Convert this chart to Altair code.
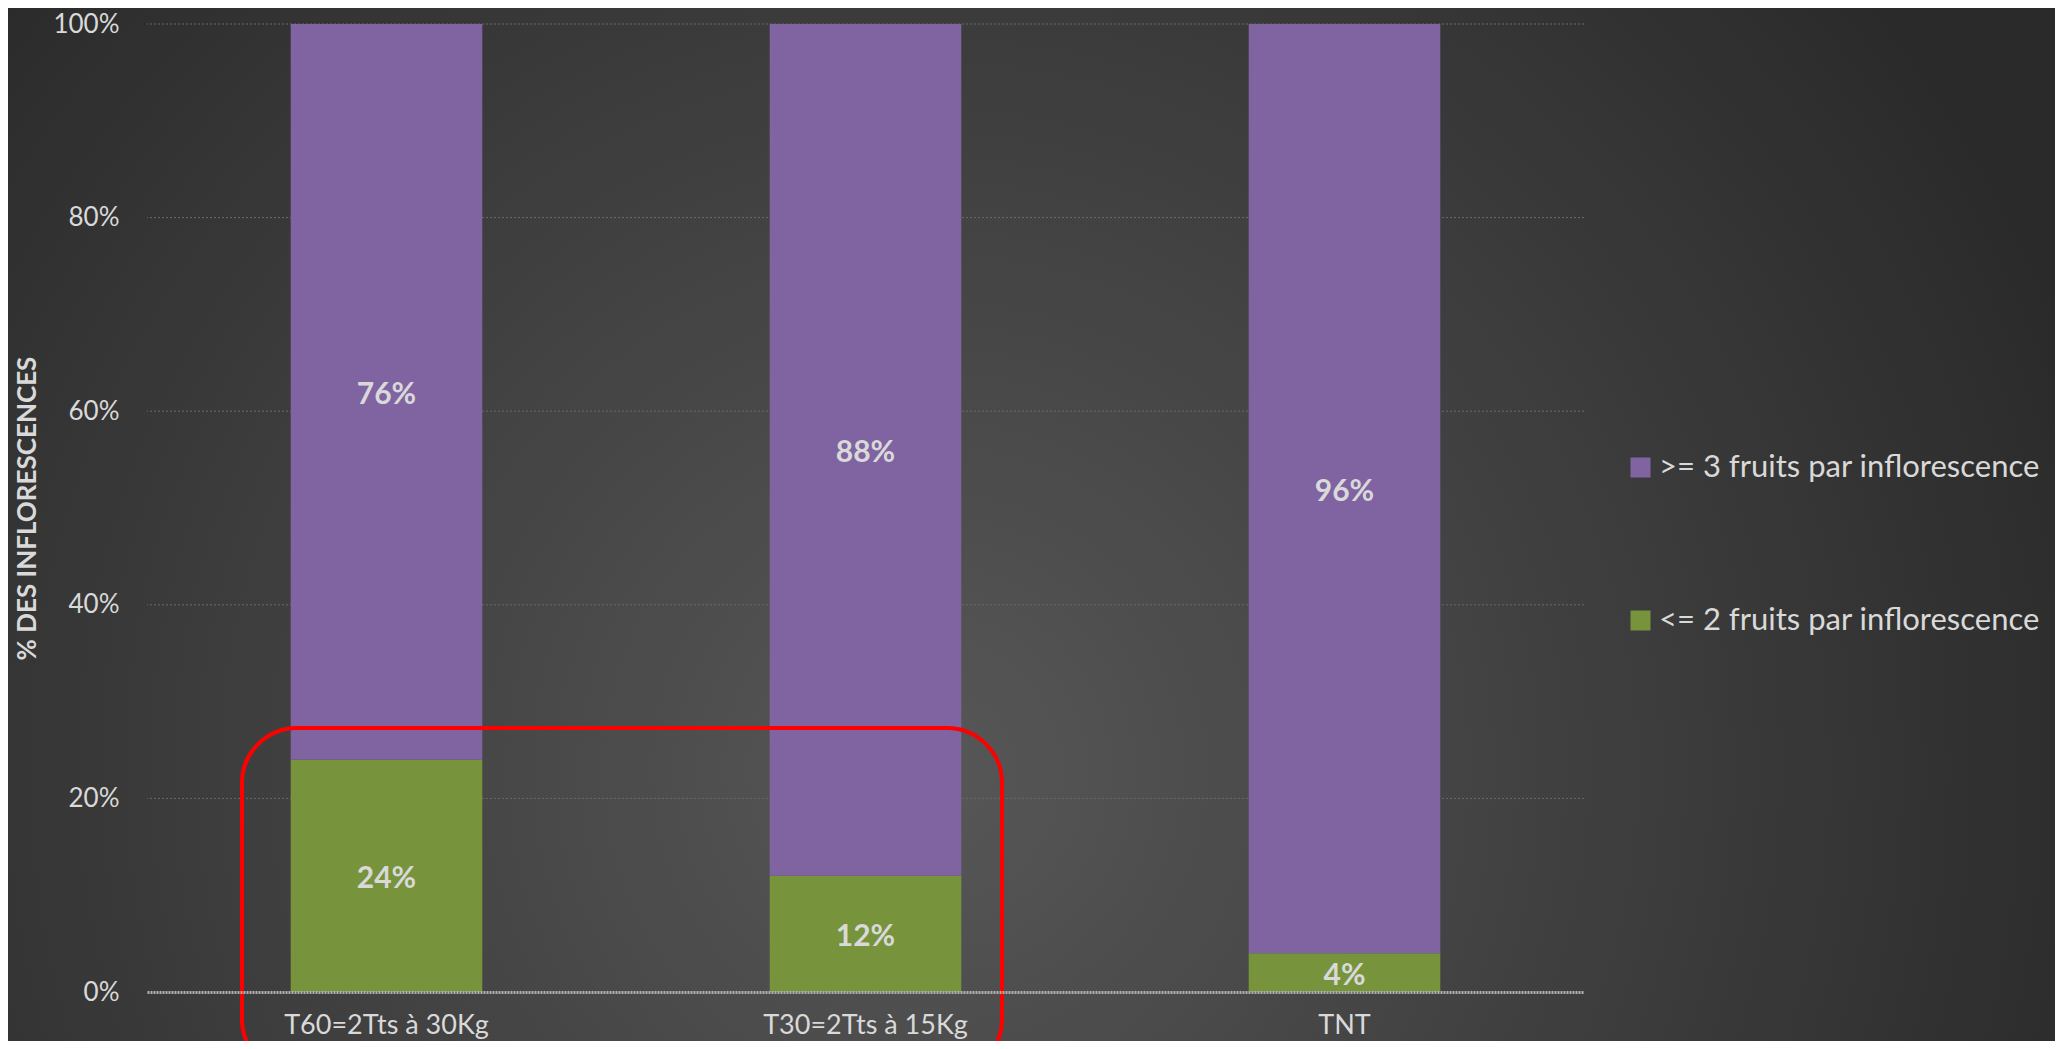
import altair as alt
import pandas as pd

# ---- data ----
categories = ["T60=2Tts à 30Kg", "T30=2Tts à 15Kg", "TNT"]
series_low = "<= 2 fruits par inflorescence"
series_high = ">= 3 fruits par inflorescence"
low_values = [24, 12, 4]
high_values = [76, 88, 96]
y_ticks = [0, 20, 40, 60, 80, 100]
legend_order = [series_high, series_low]
series_colors = ["#8064a2", "#77933c"]

rows = []
for c, lo, hi in zip(categories, low_values, high_values):
    rows.append({"cat": c, "series": series_low, "val": lo, "ord": 0})
    rows.append({"cat": c, "series": series_high, "val": hi, "ord": 1})
df = pd.DataFrame(rows)

# ---- layout ----
W, H = 1437, 968
PAD = {"left": 139, "top": 16, "right": 471, "bottom": 49}
FONT = "Lato"
TXT = "#d9d9d9"

xscale = alt.Scale(domain=categories, paddingInner=0.6, paddingOuter=0.3)
yscale = alt.Scale(domain=[0, 100], nice=False)

one = pd.DataFrame({"a": [0]})

gradient = {
    "gradient": "radial",
    "x1": 0.45, "y1": 0.62, "r1": 0,
    "x2": 0.45, "y2": 0.62, "r2": 0.6,
    "stops": [
        {"offset": 0, "color": "#575757"},
        {"offset": 1, "color": "#2a2a2a"},
    ],
}

bg = alt.Chart(one).mark_rect(fill=gradient).encode(
    x=alt.value(-PAD["left"]),
    x2=alt.value(W + PAD["right"]),
    y=alt.value(-PAD["top"]),
    y2=alt.value(H + PAD["bottom"]),
)

grid = alt.Chart(pd.DataFrame({"v": y_ticks[1:]})).mark_rule(
    color="#6a6a6a", strokeDash=[2, 2], strokeWidth=1
).encode(y=alt.Y("v:Q", scale=yscale))

bars = alt.Chart(df).mark_bar().encode(
    x=alt.X(
        "cat:N",
        sort=categories,
        scale=xscale,
        axis=alt.Axis(
            title=None,
            labelAngle=0,
            labelFont=FONT,
            labelFontSize=27,
            labelColor=TXT,
            labelLimit=600,
            labelBaseline="alphabetic",
            labelPadding=41,
            ticks=False,
            grid=False,
            domainColor="#b0b0b0",
            domainWidth=3,
            domainDash=[2, 1],
            zindex=1,
        ),
    ),
    y=alt.Y(
        "val:Q",
        stack="zero",
        scale=yscale,
        axis=alt.Axis(
            values=y_ticks,
            labelExpr="datum.value + '%'",
            title="% DES INFLORESCENCES",
            titleFont=FONT,
            titleFontSize=26,
            titleFontWeight="bold",
            titleColor=TXT,
            titleAngle=270,
            titleAlign="center",
            titleBaseline="alphabetic",
            titleX=-112,
            titleY=H / 2,
            labelFont=FONT,
            labelFontSize=26,
            labelColor=TXT,
            labelPadding=28,
            ticks=False,
            domain=False,
            grid=False,
            zindex=1,
        ),
    ),
    color=alt.Color(
        "series:N",
        scale=alt.Scale(domain=legend_order, range=series_colors),
        legend=alt.Legend(
            orient="none",
            legendX=1478,
            legendY=428,
            direction="vertical",
            title=None,
            labelFont=FONT,
            labelFontSize=31,
            labelColor=TXT,
            labelLimit=800,
            symbolType="square",
            symbolSize=400,
            symbolStrokeWidth=0,
            labelOffset=3,
            rowPadding=121,
            padding=0,
            zindex=1,
        ),
    ),
    order=alt.Order("ord:Q", sort="ascending"),
)

labels = alt.Chart(df).transform_stack(
    stack="val",
    groupby=["cat"],
    as_=["v0", "v1"],
    sort=[alt.SortField("ord", order="ascending")],
).transform_calculate(
    mid="(datum.v0 + datum.v1) / 2",
    lbl="datum.val + '%'",
).mark_text(
    font=FONT, fontSize=30, fontWeight="bold", color=TXT, align="center", baseline="middle", dy=3
).encode(
    x=alt.X("cat:N", sort=categories, scale=xscale),
    y=alt.Y("mid:Q", scale=yscale),
    text="lbl:N",
)

annot = alt.Chart(one).mark_rect(
    fillOpacity=0, stroke="#ff0000", strokeWidth=4, cornerRadius=55
).encode(
    x=alt.value(95),
    x2=alt.value(855),
    y=alt.value(704),
    y2=alt.value(1050),
)

chart = alt.layer(bg, grid, bars, labels, annot).properties(
    width=W,
    height=H,
    padding=PAD,
    autosize=alt.AutoSizeParams(type="none"),
    background="#2e2e2e",
).configure_view(strokeWidth=0)

chart.save("out.html", embed_options={"renderer": "svg", "actions": False})
